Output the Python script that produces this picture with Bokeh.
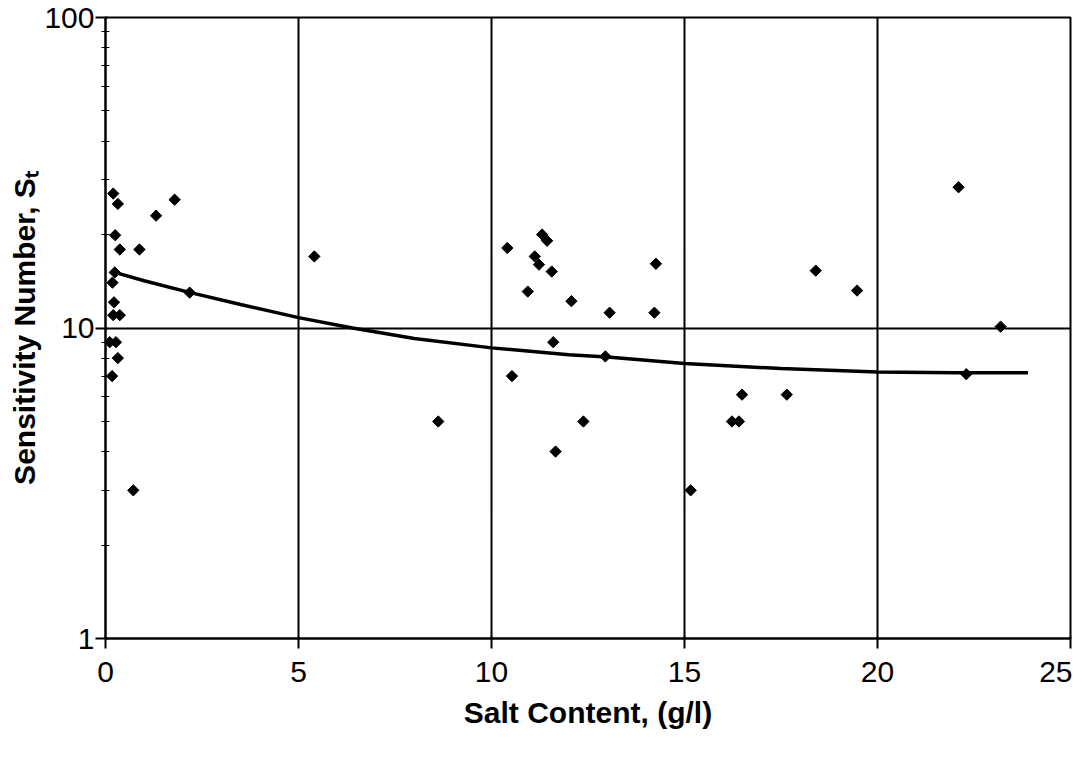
import numpy as np
from bokeh.plotting import figure
from bokeh.models import FixedTicker, Range1d
from bokeh.embed import file_html
from bokeh.resources import INLINE

# Scatter data
salt = [0.20, 0.32, 1.31, 1.79, 0.25, 0.37, 0.88, 0.24, 0.18, 2.18, 0.22, 0.20, 0.37,
        0.11, 0.27, 0.32, 0.17, 0.72,
        5.41, 10.41, 11.31, 11.44, 11.12, 11.23, 11.56, 10.94, 12.07, 13.06, 11.60,
        12.95, 10.53, 8.62, 12.38, 11.66,
        14.26, 14.22, 16.49, 16.23, 16.41, 15.16, 18.40, 19.47, 22.10, 23.19, 22.30, 17.65]
sens = [27.1, 25.1, 23.0, 25.9, 19.9, 17.9, 17.9, 15.1, 14.0, 13.0, 12.1, 11.0, 11.0,
        9.0, 9.0, 8.0, 7.0, 3.0,
        17.0, 18.1, 20.0, 19.1, 17.0, 16.0, 15.2, 13.1, 12.2, 11.2, 9.0,
        8.1, 7.0, 5.0, 5.0, 4.0,
        16.1, 11.2, 6.1, 5.0, 5.0, 3.0, 15.3, 13.2, 28.4, 10.1, 7.1, 6.1]

# Trend curve
trend_x = [0.24, 1.0, 2.2, 3.5, 5.0, 6.4, 8.0, 10.0, 12.0, 13.0, 15.0, 17.5, 20.0, 22.0, 23.9]
trend_y = [15.1, 14.2, 13.0, 11.9, 10.8, 10.0, 9.25, 8.63, 8.2, 8.06, 7.69, 7.4, 7.22, 7.18, 7.18]

x_ticks = [0, 5, 10, 15, 20, 25]
y_ticks = [1, 10, 100]
y_tick_labels = {1: "1", 10: "10", 100: "100"}
y_minor = [2, 3, 4, 5, 6, 7, 8, 9, 20, 30, 40, 50, 60, 70, 80, 90]

FONT = "Liberation Sans"

p = figure(width=1072, height=741, output_backend="svg", toolbar_location=None,
           y_axis_type="log", x_range=Range1d(0, 25), y_range=Range1d(1, 100),
           min_border_left=105, min_border_right=2, min_border_top=17, min_border_bottom=103)

p.background_fill_color = "white"
p.border_fill_color = "white"
p.outline_line_color = "black"
p.outline_line_width = 2

p.xaxis.ticker = FixedTicker(ticks=x_ticks)
p.yaxis.ticker = FixedTicker(ticks=y_ticks, minor_ticks=y_minor)
p.yaxis.major_label_overrides = y_tick_labels

for ax in (p.xaxis[0], p.yaxis[0]):
    ax.axis_line_color = "black"
    ax.axis_line_width = 2
    ax.major_tick_line_color = "black"
    ax.major_tick_line_width = 2
    ax.major_tick_out = 10
    ax.major_tick_in = 2
    ax.major_label_text_font = FONT
    ax.major_label_text_font_size = "30px"
    ax.major_label_text_color = "black"
    ax.axis_label_text_font = FONT
    ax.axis_label_text_font_style = "bold"
    ax.axis_label_text_font_size = "30px"
    ax.axis_label_text_color = "black"

p.xaxis.minor_tick_line_color = None
p.xaxis.major_label_standoff = 13
p.xaxis.axis_label = "Salt Content, (g/l)"
p.xaxis.axis_label_standoff = 11

p.yaxis.minor_tick_line_color = "black"
p.yaxis.minor_tick_line_width = 1
p.yaxis.minor_tick_in = 4
p.yaxis.minor_tick_out = 4
p.yaxis.major_label_standoff = 1
p.yaxis.axis_label = "Sensitivity Number, S\u209c"
p.yaxis.axis_label_standoff = 0

p.xgrid.grid_line_color = "black"
p.xgrid.grid_line_width = 2
p.ygrid.grid_line_color = "black"
p.ygrid.grid_line_width = 2
p.xgrid.ticker = FixedTicker(ticks=x_ticks)
p.ygrid.ticker = FixedTicker(ticks=y_ticks)

p.line(trend_x, trend_y, line_color="black", line_width=3.5)
p.scatter(salt, sens, marker="square", angle=np.pi / 4, size=8,
          fill_color="black", line_color="black")

open("out.html", "w").write(file_html(p, INLINE))
